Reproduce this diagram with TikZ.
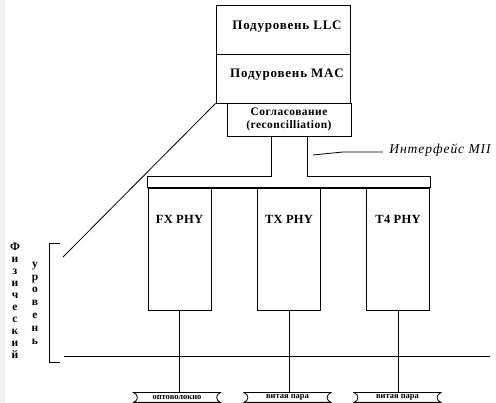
\documentclass[tikz,border=0pt]{standalone}
\usepackage{fontspec}
\setmainfont{Liberation Serif}
\usetikzlibrary{calc}
\begin{document}
\begin{tikzpicture}[x=1pt,y=-1pt,line width=0.8pt,
  box/.style={draw,rectangle,inner sep=0pt},
  big/.style={font=\bfseries\fontsize{13}{14}\selectfont\addfontfeature{LetterSpace=6}},
  mid/.style={font=\bfseries\fontsize{11.5}{12.5}\selectfont\addfontfeature{LetterSpace=4}},
  tiny/.style={font=\bfseries\fontsize{8.5}{9}\selectfont},
  vert/.style={font=\bfseries\fontsize{11.5}{12}\selectfont,align=center,inner sep=0pt},
  banner/.style={minimum width=86pt,minimum height=9pt,inner sep=0pt,tiny}]
\useasboundingbox (0,0) rectangle (496,403);
\fill[gray!12] (0,0) rectangle (5,403);
% upper boxes
\node[box,minimum width=134pt,minimum height=49pt] (llc) at (283,29.5) {};
\node[box,minimum width=134pt,minimum height=49pt] (mac) at (283,78.5) {};
\node[big] (llct) at ($(llc.center)+(4,-3)$) {Подуровень LLC};
\node[big] (mact) at ($(mac.center)+(4,-4)$) {Подуровень MAC};
\node[box,mid,minimum width=124pt,minimum height=33pt,align=center] (rec) at (289,119.5) {Согласование\\(reconcilliation)};
% bus
\node[minimum width=282pt,minimum height=11pt,inner sep=0pt] (bus) at (289,182.5) {};
\coordinate (ra) at ($(rec.south)+(-18,0)$);
\coordinate (rb) at ($(rec.south)+(18,0)$);
\draw (ra) -- (ra |- bus.north) -- (bus.north west) -- (bus.south west);
\draw (rb) -- (rb |- bus.north) -- (bus.north east) -- (bus.south east);
\draw[line width=2pt] (bus.south west) -- (bus.south east);
% PHY boxes
\foreach \n/\x/\t in {fx/179.5/FX PHY,tx/289/TX PHY,tf/398/T4 PHY}{
  \node[box,minimum width=63pt,minimum height=122pt,
    label={[anchor=center,yshift=-32pt,font=\bfseries\fontsize{12.5}{14}\selectfont\addfontfeature{LetterSpace=2}]north:\t}] (\n) at (\x,249) {};
}
% banners
\node[banner] (b1) at (177,397.5) {оптоволокно};
\node[banner] (b2) at (287.5,397.5) {витая пара};
\node[banner] (b3) at (397.5,397.5) {витая пара};
\foreach \b in {b1,b2,b3}{
  \draw (\b.north west) .. controls ($(\b.north west)+(5,2)$) and ($(\b.south west)+(5,-2)$) .. (\b.south west)
     -- (\b.south east) .. controls ($(\b.south east)+(-5,-2)$) and ($(\b.north east)+(-5,2)$) .. (\b.north east) -- cycle;
}
\draw (fx.south) -- (fx.south |- b1.north);
\draw (tx.south) -- (tx.south |- b2.north);
\draw (tf.south) -- (tf.south |- b3.north);
% horizontal line
\coordinate (hl) at (64,356);
\coordinate (hr) at (490,356);
\draw (hl) -- (hr);
% bracket
\coordinate (bt) at (60,243);
\coordinate (bb) at (60,362);
\draw (bt) -- ++(-11,0) -- ++(0,119) -- (bb);
% diagonal
\coordinate (dg) at (63,257);
\draw (mac.south west) -- (dg);
% interface label
\node[anchor=west,font=\itshape\fontsize{13.5}{15}\selectfont\addfontfeature{LetterSpace=7},inner sep=0pt] (mii) at (389,150) {Интерфейс МII};
\coordinate (m1) at (313,155);
\draw (m1) -- (343,152) -- ($(mii.west)+(-6,2)$);
% vertical text
\node[vert] (fiz) at (15,301) {Ф\\и\\з\\и\\ч\\е\\с\\к\\и\\й};
\node[vert,font=\bfseries\fontsize{11.5}{12.8}\selectfont] (urv) at (35,303) {у\\р\\о\\в\\е\\н\\ь};
\end{tikzpicture}
\end{document}
